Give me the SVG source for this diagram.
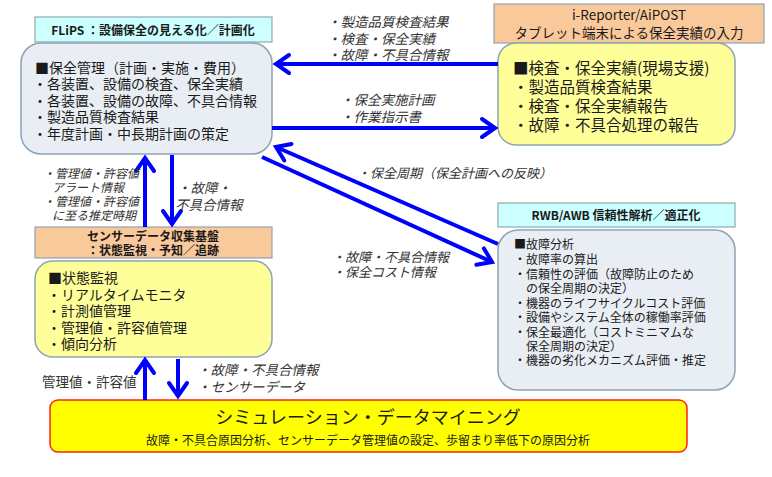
<svg xmlns="http://www.w3.org/2000/svg" width="772" height="477" viewBox="0 0 772 477">
<defs>
<style>
text{font-family:"Noto Sans CJK JP","Noto Sans",sans-serif;fill:#1a1a1a}
.lbl{fill:#CCFFFF;stroke:#8FA8A8;stroke-width:1.2}
.sal{fill:#FAC99B;stroke:#8FA3B5;stroke-width:1.2}
.gb{fill:#E9EEF4;stroke:#8DA2B5;stroke-width:1.5}
.yl{fill:#FFFF99;stroke:#8DA2B5;stroke-width:1.5}
.it{font-style:italic;fill:#333}
.arr{stroke:#0000FF;stroke-width:4;fill:none;marker-end:url(#ah)}
.b{font-weight:bold}
</style>
<marker id="ah" markerUnits="userSpaceOnUse" markerWidth="30" markerHeight="30" viewBox="-20 -15 30 30" refX="0" refY="0" orient="auto" overflow="visible">
<path d="M-13,-9 L0,0 L-13,9" fill="none" stroke="#0000FF" stroke-width="4" stroke-linecap="round" stroke-linejoin="miter"/>
</marker>
</defs>

<g id="flips">
<rect class="lbl" x="35" y="17" width="237" height="25"/>
<text class="b" x="153" y="34.5" font-size="12" text-anchor="middle">FLiPS ：設備保全の見える化／計画化</text>
<rect class="gb" x="21" y="43" width="251" height="111" rx="20"/>
<g font-size="14">
<text x="35" y="73">■保全管理（計画・実施・費用）</text>
<text x="33" y="89">・各装置、設備の検査、保全実績</text>
<text x="33" y="105.5">・各装置、設備の故障、不具合情報</text>
<text x="33" y="122">・製造品質検査結果</text>
<text x="33" y="138.5">・年度計画・中長期計画の策定</text>
</g>
</g>

<g id="ireporter">
<rect class="sal" x="494" y="4" width="270" height="39"/>
<text x="629" y="20" font-size="13.5" text-anchor="middle">i-Reporter/AiPOST</text>
<text x="629" y="38" font-size="13.5" text-anchor="middle">タブレット端末による保全実績の入力</text>
<rect class="yl" x="498" y="43" width="237" height="102" rx="18"/>
<g font-size="15.5">
<text x="513" y="73.5">■検査・保全実績(現場支援)</text>
<text x="513" y="92.5">・製造品質検査結果</text>
<text x="513" y="111.5">・検査・保全実績報告</text>
<text x="513" y="130.5">・故障・不具合処理の報告</text>
</g>
</g>

<g id="sensor">
<rect class="sal" x="35" y="227" width="237" height="31"/>
<text class="b" x="153" y="241" font-size="12" text-anchor="middle">センサーデータ収集基盤</text>
<text class="b" x="153" y="255" font-size="12" text-anchor="middle">：状態監視・予知／追跡</text>
<rect class="yl" x="35" y="261" width="237" height="96" rx="18"/>
<g font-size="14">
<text x="48" y="283">■状態監視</text>
<text x="47" y="299.5">・リアルタイムモニタ</text>
<text x="47" y="316">・計測値管理</text>
<text x="47" y="332.5">・管理値・許容値管理</text>
<text x="47" y="349">・傾向分析</text>
</g>
</g>

<g id="rwb">
<rect class="lbl" x="498" y="203" width="237" height="24"/>
<text class="b" x="616" y="219.5" font-size="12" text-anchor="middle">RWB/AWB 信頼性解析／適正化</text>
<rect class="gb" x="498" y="230" width="237" height="160" rx="20"/>
<g font-size="12">
<text x="514" y="249">■故障分析</text>
<text x="514" y="264">・故障率の算出</text>
<text x="514" y="279">・信頼性の評価（故障防止のため</text>
<text x="526" y="293">の保全周期の決定）</text>
<text x="514" y="307.5">・機器のライフサイクルコスト評価</text>
<text x="514" y="322">・設備やシステム全体の稼働率評価</text>
<text x="514" y="336.5">・保全最適化（コストミニマムな</text>
<text x="526" y="350.5">保全周期の決定）</text>
<text x="514" y="365">・機器の劣化メカニズム評価・推定</text>
</g>
</g>

<g id="mining">
<rect x="50" y="400" width="637" height="52" rx="8" fill="#FFFF00" stroke="#FF2020" stroke-width="1.5"/>
<text x="368" y="424" font-size="18" text-anchor="middle">シミュレーション・データマイニング</text>
<text x="368" y="445" font-size="12" text-anchor="middle">故障・不具合原因分析、センサーデータ管理値の設定、歩留まり率低下の原因分析</text>
</g>

<g id="connectors">
<line class="arr" x1="498" y1="64" x2="276" y2="64"/>
<line class="arr" x1="272" y1="128" x2="495" y2="128"/>
<line class="arr" x1="498" y1="244" x2="276" y2="147"/>
<line class="arr" x1="262" y1="157" x2="492" y2="262"/>
<line class="arr" x1="145" y1="227" x2="145" y2="158"/>
<line class="arr" x1="172" y1="155" x2="172" y2="224"/>
<line class="arr" x1="145" y1="400" x2="145" y2="360"/>
<line class="arr" x1="178" y1="359" x2="178" y2="396"/>
<g class="it" font-size="13.5">
<text class="it" x="327" y="27">・製造品質検査結果</text>
<text class="it" x="327" y="43.5">・検査・保全実績</text>
<text class="it" x="327" y="60">・故障・不具合情報</text>
<text class="it" x="340" y="105">・保全実施計画</text>
<text class="it" x="340" y="122">・作業指示書</text>
<text class="it" x="357" y="178" font-size="13">・保全周期（保全計画への反映）</text>
<text class="it" x="332" y="262" font-size="13">・故障・不具合情報</text>
<text class="it" x="332" y="277" font-size="13">・保全コスト情報</text>
<text class="it" x="177" y="193">・故障・</text>
<text class="it" x="175" y="210">不具合情報</text>
<text class="it" x="197" y="375">・故障・不具合情報</text>
<text class="it" x="197" y="392">・センサーデータ</text>
</g>
<g font-size="12">
<text class="it" x="43" y="177.5">・管理値・許容値</text>
<text class="it" x="52" y="191.5">アラート情報</text>
<text class="it" x="43" y="205.5">・管理値・許容値</text>
<text class="it" x="52" y="219.5">に至る推定時期</text>
</g>
<text x="42" y="387" font-size="13.5" fill="#333" style="fill:#333">管理値・許容値</text>
</g>
</svg>
